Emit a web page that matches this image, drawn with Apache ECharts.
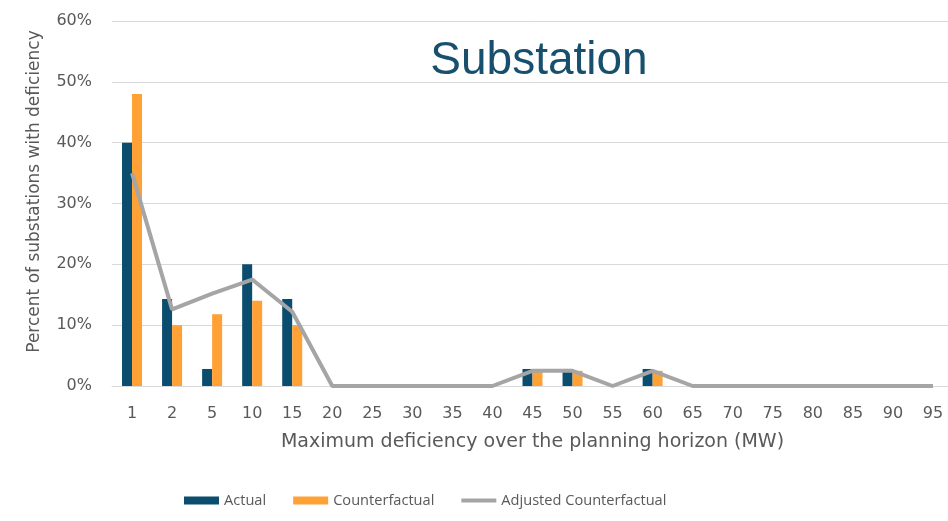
<!DOCTYPE html>
<html><head><meta charset="utf-8">
<script src="https://cdn.jsdelivr.net/npm/echarts@6/dist/echarts.min.js"></script>
<style>html,body{margin:0;padding:0;background:#fff;overflow:hidden}#c{width:953px;height:521px}</style>
</head><body><div id="c"></div>
<script>
const categories = ['1','2','5','10','15','20','25','30','35','40','45','50','55','60','65','70','75','80','85','90','95'];
const actual = [40, 14.3, 2.8, 20, 14.3, 0, 0, 0, 0, 0, 2.8, 2.8, 0, 2.8, 0, 0, 0, 0, 0, 0, 0];
const counterfactual = [48, 10, 11.8, 14, 10, 0, 0, 0, 0, 0, 2.5, 2.5, 0, 2.5, 0, 0, 0, 0, 0, 0, 0];
const adjusted = [35, 12.6, 15.2, 17.5, 12.2, 0, 0, 0, 0, 0, 2.5, 2.5, 0, 2.5, 0, 0, 0, 0, 0, 0, 0];
const yTicks = [0, 10, 20, 30, 40, 50, 60];

const axisFont = 'DejaVu Sans';
const legendFont = 'Open Sans';
const chart = echarts.init(document.getElementById('c'));
chart.setOption({
  animation: false,
  title: { text: 'Substation', left: 534, top: 33, textAlign: 'center',
    textStyle: { fontFamily: 'Liberation Sans', fontWeight: 'normal', fontSize: 46, color: '#17506e' } },
  grid: { left: 112, right: 0, top: 21, height: 365 },
  legend: {
    bottom: 8, left: 179, itemWidth: 35, itemHeight: 8, itemGap: 27,
    textStyle: { fontFamily: legendFont, fontSize: 14.6, color: '#595959' },
    data: [{name:'Actual', icon:'rect'}, {name:'Counterfactual', icon:'rect'},
           {name:'Adjusted Counterfactual', icon:'path://M0,0 L35,0 L35,4 L0,4 Z'}]
  },
  xAxis: {
    type: 'category', data: categories,
    axisTick: { show: false },
    axisLine: { lineStyle: { color: '#d9d9d9', width: 1 } },
    axisLabel: { fontFamily: axisFont, fontSize: 16, color: '#595959', margin: 20 },
    name: 'Maximum deficiency over the planning horizon (MW)', nameLocation: 'middle', nameGap: 47,
    nameTextStyle: { fontFamily: axisFont, fontSize: 19, color: '#595959' }
  },
  yAxis: {
    type: 'value', min: 0, max: 60, interval: 10,
    axisLabel: { fontFamily: axisFont, fontSize: 16, color: '#595959', formatter: v => yTicks.includes(v) ? v + '%' : '', margin: 20 },
    splitLine: { lineStyle: { color: '#d9d9d9', width: 1 } },
    axisLine: { show: false }, axisTick: { show: false },
    name: 'Percent of substations with deficiency', nameLocation: 'middle', nameGap: 69, nameRotate: 90,
    nameTextStyle: { fontFamily: axisFont, fontSize: 17, color: '#595959', padding: [0, 0, 0, 24] }
  },
  series: [
    { name: 'Actual', type: 'bar', data: actual, barWidth: 10, barGap: '0%', itemStyle: { color: '#0b4d6e' } },
    { name: 'Counterfactual', type: 'bar', data: counterfactual, barWidth: 10, barGap: '0%', itemStyle: { color: '#ffa135' } },
    { name: 'Adjusted Counterfactual', type: 'line', data: adjusted, symbol: 'none',
      lineStyle: { color: '#a5a5a5', width: 4 }, itemStyle: { color: '#a5a5a5' } }
  ]
});
</script></body></html>
